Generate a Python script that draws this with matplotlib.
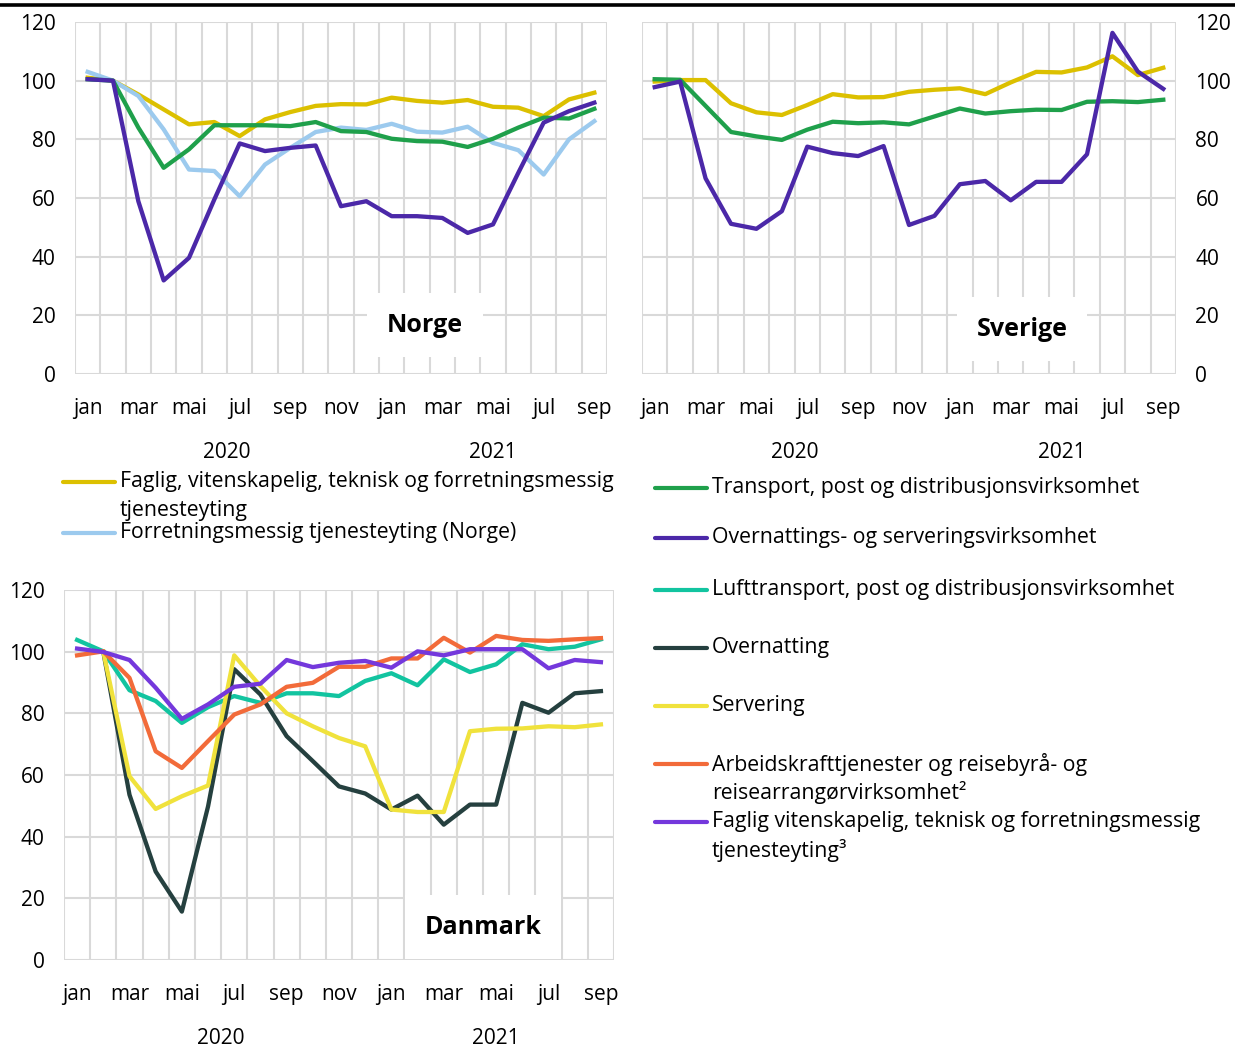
import matplotlib.pyplot as plt
from matplotlib.lines import Line2D
import numpy as np

plt.rcParams['font.family'] = ['Open Sans', 'DejaVu Sans']
plt.rcParams['font.size'] = 15

W, H = 1235, 1048

months = ['jan', 'feb', 'mar', 'apr', 'mai', 'jun', 'jul', 'aug', 'sep', 'okt', 'nov', 'des',
          'jan', 'feb', 'mar', 'apr', 'mai', 'jun', 'jul', 'aug', 'sep']
years = ['2020', '2021']
nan = np.nan

# Norge
no_faglig = [101.0, 100.0, 95.3, 90.2, 85.1, 85.9, 81.1, 86.8, 89.3, 91.4, 92.0, 91.9,
             94.2, 93.1, 92.5, 93.4, 91.1, 90.8, 87.9, 93.6, 95.9]
no_forretning = [103.0, 100.0, 94.8, 83.4, 69.7, 69.2, 60.6, 71.4, 77.1, 82.5, 84.0, 83.2,
                 85.3, 82.6, 82.3, 84.3, 78.8, 76.3, 68.0, 80.0, 86.2]
no_transport = [100.5, 100.0, 84.0, 70.3, 76.6, 84.8, 84.8, 84.8, 84.5, 85.9, 82.8, 82.5,
                80.2, 79.4, 79.2, 77.4, 80.2, 84.0, 87.4, 87.1, 90.4]
no_overnatting = [100.5, 100.0, 58.9, 31.9, 39.6, 59.5, 78.6, 76.0, 77.1, 77.9, 57.2, 58.9,
                  53.8, 53.8, 53.2, 48.1, 51.0, 68.6, 85.7, 89.6, 92.5]

# Sverige
se_faglig = [99.7, 100.2, 100.2, 92.3, 89.2, 88.3, 91.7, 95.4, 94.3, 94.4, 96.2, 96.9,
             97.4, 95.4, 99.4, 103.0, 102.8, 104.5, 108.3, 101.9, 104.4]
se_transport = [100.5, 100.3, 91.4, 82.5, 81.0, 79.8, 83.3, 86.0, 85.5, 85.8, 85.1, 87.8,
                90.5, 88.8, 89.6, 90.1, 90.0, 92.8, 93.0, 92.7, 93.5]
se_overnatting = [97.8, 99.7, 66.7, 51.2, 49.5, 55.5, 77.5, 75.3, 74.3, 77.7, 50.8, 53.9,
                  64.7, 65.8, 59.2, 65.5, 65.5, 74.9, 116.3, 103.1, 97.2]

# Danmark
dk_luft = [103.8, 100.1, 87.5, 84.0, 76.9, 82.0, 85.6, 83.4, 86.5, 86.5, 85.6, 90.5,
           93.0, 89.1, 97.5, 93.4, 95.9, 102.4, 100.8, 101.6, 104.0]
dk_overnatting = [nan, 100.0, 53.6, 28.7, 15.7, 49.8, 94.3, 86.1, 72.6, 64.5, 56.3, 54.0,
                  48.8, 53.3, 43.9, 50.4, 50.4, 83.4, 80.2, 86.5, 87.2]
dk_servering = [nan, 100.0, 59.6, 49.0, 53.1, 56.6, 98.8, 88.8, 80.0, 75.8, 72.0, 69.3,
                48.8, 48.0, 48.0, 74.2, 75.0, 75.1, 75.8, 75.5, 76.4]
dk_arbeid = [98.8, 100.1, 91.5, 67.7, 62.3, 71.0, 79.6, 82.9, 88.6, 89.9, 95.1, 95.1,
             97.8, 97.8, 104.5, 99.7, 105.1, 103.8, 103.5, 104.0, 104.4]
dk_faglig = [101.0, 99.9, 97.3, 88.3, 78.2, 82.9, 88.6, 89.6, 97.3, 95.0, 96.4, 97.0,
             94.8, 100.1, 98.8, 100.8, 100.8, 100.8, 94.6, 97.3, 96.6]

c_faglig = '#dcc000'
c_forr = '#9ccaee'
c_transport = '#1fa04b'
c_overn = '#4b28a8'
c_luft = '#12c4a0'
c_dkovern = '#25403f'
c_serv = '#f0e23c'
c_arbeid = '#f26b3a'
c_dkfaglig = '#7438dc'

fig = plt.figure(figsize=(W / 100, H / 100), dpi=100)


def px_axes(left, right, top, bottom):
    return fig.add_axes([left / W, 1 - bottom / H, (right - left) / W, (bottom - top) / H])


def style(ax, name, name_px, box, right=False):
    # box = (left, right, top, bottom) in pixels, name_px = text centre in pixels
    l, r, t, b = box
    x = np.arange(len(months))
    ax.set_xlim(-0.5, len(months) - 0.5)
    ax.set_ylim(0, 120)
    ax.set_yticks(range(0, 121, 20))
    ax.set_xticks(x[::2])
    ax.set_xticklabels(months[::2])
    ax.set_xticks(np.arange(-0.5, len(months), 1), minor=True)
    ax.grid(True, which='major', axis='y', color='#d9d9d9', lw=1.5)
    ax.grid(True, which='minor', axis='x', color='#d9d9d9', lw=1.5)
    ax.set_axisbelow(True)
    for s in ax.spines.values():
        s.set_visible(False)
    ax.tick_params(which='both', length=0)
    ax.tick_params(axis='x', pad=17)
    ax.tick_params(axis='y', pad=14)
    if right:
        ax.yaxis.tick_right()
    yy = -79 / (b - t)
    ax.text(5.5, yy, years[0], transform=ax.get_xaxis_transform(), ha='center', va='center')
    ax.text(16, yy, years[1], transform=ax.get_xaxis_transform(), ha='center', va='center')
    ax.text((name_px[0] - l) / (r - l), (b - name_px[1]) / (b - t), name,
            transform=ax.transAxes, ha='center', va='center',
            fontsize=18, fontweight='bold',
            bbox=dict(facecolor='white', edgecolor='none', pad=14))


x = np.arange(len(months))
lw = 3.1

box1 = (75, 607, 22, 374)
ax1 = px_axes(*box1)
ax1.plot(x, no_faglig, color=c_faglig, lw=lw)
ax1.plot(x, no_forretning, color=c_forr, lw=lw)
ax1.plot(x, no_transport, color=c_transport, lw=lw)
ax1.plot(x, no_overnatting, color=c_overn, lw=lw)
style(ax1, 'Norge', (425, 325), box1)

box2 = (642, 1176, 22, 374)
ax2 = px_axes(*box2)
ax2.plot(x, se_faglig, color=c_faglig, lw=lw)
ax2.plot(x, se_transport, color=c_transport, lw=lw)
ax2.plot(x, se_overnatting, color=c_overn, lw=lw)
style(ax2, 'Sverige', (1022, 329), box2, right=True)

box3 = (64, 614, 590, 960)
ax3 = px_axes(*box3)
ax3.plot(x, dk_luft, color=c_luft, lw=lw)
ax3.plot(x, dk_overnatting, color=c_dkovern, lw=lw)
ax3.plot(x, dk_servering, color=c_serv, lw=lw)
ax3.plot(x, dk_arbeid, color=c_arbeid, lw=lw)
ax3.plot(x, dk_faglig, color=c_dkfaglig, lw=lw)
style(ax3, 'Danmark', (483, 927), box3)

# top rule
fig.add_artist(Line2D([0, 1], [1 - 4.5 / H, 1 - 4.5 / H], transform=fig.transFigure,
                      color='black', lw=2.6))


def legend_entry(x0, y, color, label):
    fig.add_artist(Line2D([x0 / W, (x0 + 52) / W], [1 - y / H, 1 - y / H],
                          transform=fig.transFigure, color=color, lw=3,
                          solid_capstyle='round'))
    for i, line in enumerate(label.split('\n')):
        fig.text((x0 + 57) / W, 1 - (y + i * 28) / H, line, ha='left', va='center',
                 fontsize=15.3)


legend_entry(63, 482, c_faglig, 'Faglig, vitenskapelig, teknisk og forretningsmessig\ntjenesteyting')
legend_entry(63, 533, c_forr, 'Forretningsmessig tjenesteyting (Norge)')

legend_entry(655, 488, c_transport, 'Transport, post og distribusjonsvirksomhet')
legend_entry(655, 538, c_overn, 'Overnattings- og serveringsvirksomhet')
legend_entry(655, 590, c_luft, 'Lufttransport, post og distribusjonsvirksomhet')
legend_entry(655, 648, c_dkovern, 'Overnatting')
legend_entry(655, 706, c_serv, 'Servering')
legend_entry(655, 764, c_arbeid, 'Arbeidskrafttjenester og reisebyrå- og\nreisearrangørvirksomhet²')
legend_entry(655, 822, c_dkfaglig, 'Faglig vitenskapelig, teknisk og forretningsmessig\ntjenesteyting³')

fig.savefig('out.png', dpi=100)
